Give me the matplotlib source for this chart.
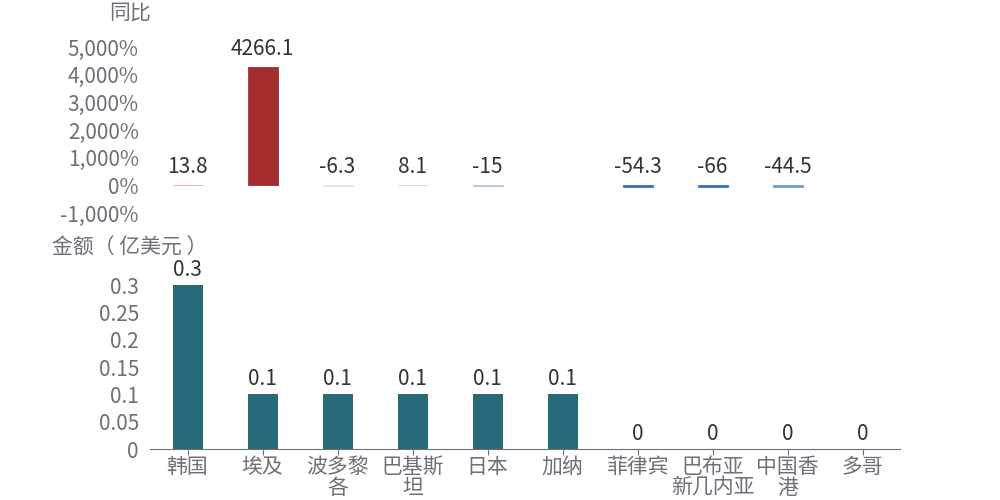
import matplotlib.pyplot as plt
import numpy as np

plt.rcParams['font.family'] = ['Noto Sans CJK SC', 'DejaVu Sans']

categories = ['韩国', '埃及', '波多黎\n各', '巴基斯\n坦', '日本', '加纳', '菲律宾', '巴布亚\n新几内亚', '中国香\n港', '多哥']
yoy = [13.8, 4266.1, -6.3, 8.1, -15, None, -54.3, -66, -44.5, None]
amount = [0.3, 0.1, 0.1, 0.1, 0.1, 0.1, 0, 0, 0, 0]
yoy_colors = ['#e3aaaa', '#a52d2d', '#dde6f0', '#f0cccc', '#b3c6e0', '#ffffff',
              '#3a71c0', '#3a6fbd', '#6f9bd3', '#ffffff']

gray = '#6e7079'
dark = '#333333'
fs = 15
x = np.arange(len(categories))

fig = plt.figure(figsize=(10, 5), dpi=100)

# top panel: year-on-year
ax1 = fig.add_axes([0.15, 0.574, 0.75, 0.332])
vals = [v if v is not None else 0 for v in yoy]
ax1.bar(x, vals, width=0.4, color=yoy_colors, edgecolor=yoy_colors, linewidth=0.6)
for i, v in enumerate(yoy):
    if v is None:
        continue
    ax1.annotate(f'{v:g}', (i, max(v, 0)), xytext=(0, 5), textcoords='offset points',
                 ha='center', va='bottom', fontsize=fs, color=dark)
ax1.set_xlim(-0.5, len(categories) - 0.5)
ax1.set_ylim(-1000, 5000)
ax1.set_yticks(range(-1000, 5001, 1000))
ax1.set_yticklabels([f'{t:,}%' for t in range(-1000, 5001, 1000)])
ax1.tick_params(axis='y', length=0, labelsize=fs, labelcolor=gray, pad=8)
ax1.set_xticks([])
for s in ax1.spines.values():
    s.set_visible(False)
fig.text(0.13, 0.975, '同比', ha='center', va='center', fontsize=fs, color=gray)

# bottom panel: amount
ax2 = fig.add_axes([0.15, 0.102, 0.75, 0.328])
ax2.bar(x, amount, width=0.4, color='#276a7a')
for i, v in enumerate(amount):
    ax2.annotate(f'{v:g}', (i, v), xytext=(0, 3), textcoords='offset points',
                 ha='center', va='bottom', fontsize=fs, color=dark)
ax2.set_xlim(-0.5, len(categories) - 0.5)
ax2.set_ylim(0, 0.3)
ax2.set_yticks([0, 0.05, 0.1, 0.15, 0.2, 0.25, 0.3])
ax2.set_yticklabels(['0', '0.05', '0.1', '0.15', '0.2', '0.25', '0.3'])
ax2.tick_params(axis='y', length=0, labelsize=fs, labelcolor=gray, pad=8)
ax2.set_xticks(x)
ax2.set_xticklabels(categories, linespacing=0.92)
ax2.tick_params(axis='x', length=4, color=gray, labelsize=fs, labelcolor=gray, pad=1)
for k in ['top', 'right', 'left']:
    ax2.spines[k].set_visible(False)
ax2.spines['bottom'].set_color(gray)
fig.text(0.13, 0.505, '金额（ 亿美元 ）', ha='center', va='center', fontsize=fs, color=gray)

fig.savefig('out.png', dpi=100)
